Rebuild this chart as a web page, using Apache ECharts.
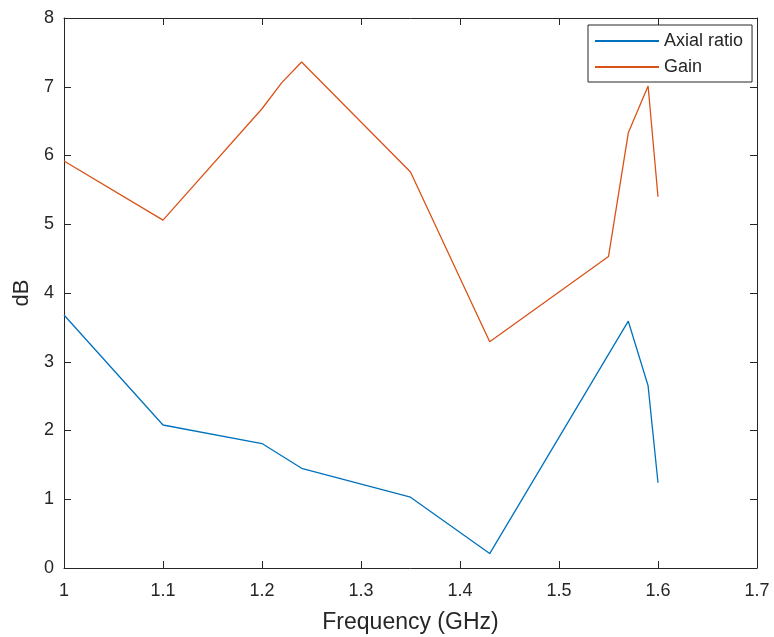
<!DOCTYPE html>
<html><head><meta charset="utf-8">
<script src="https://cdn.jsdelivr.net/npm/echarts@6/dist/echarts.min.js"></script>
<style>html,body{margin:0;padding:0;background:#fff}#c{width:774px;height:637px}</style>
</head><body><div id="c"></div>
<script>
const axialFreq = [1.0, 1.1, 1.2, 1.24, 1.35, 1.43, 1.57, 1.59, 1.60];
const axialRatio = [3.68, 2.08, 1.81, 1.45, 1.03, 0.21, 3.59, 2.65, 1.24];
const gainFreq = [1.0, 1.1, 1.2, 1.22, 1.24, 1.35, 1.43, 1.55, 1.57, 1.59, 1.60];
const gainVals = [5.92, 5.06, 6.68, 7.06, 7.36, 5.76, 3.29, 4.53, 6.33, 7.01, 5.40];
const xTicks = {min: 1, max: 1.7, interval: 0.1};
const yTicks = {min: 0, max: 8, interval: 1};

const font = 'Liberation Sans, Arial, sans-serif';
const axisCol = '#262626';
const chart = echarts.init(document.getElementById('c'));
const pair = (xs, ys) => xs.map((x, i) => [x, ys[i]]);
const baseAxis = {
  axisLine: {show: true, onZero: false, lineStyle: {color: axisCol, width: 1}},
  axisTick: {show: true, inside: true, length: 7, lineStyle: {color: axisCol}},
  splitLine: {show: false}
};
chart.setOption({
  animation: false,
  grid: {left: 64, right: 17, top: 18, bottom: 69, containLabel: false, outerBoundsMode: 'none'},
  legend: {
    orient: 'vertical', left: 588, top: 25,
    data: ['Axial ratio', 'Gain'],
    icon: 'rect', itemWidth: 64, itemHeight: 2, itemGap: 8,
    backgroundColor: '#fff', borderColor: axisCol, borderWidth: 1,
    padding: [7, 9, 6, 7],
    textStyle: {fontFamily: font, fontSize: 18, color: '#262626'}
  },
  xAxis: [
    Object.assign({}, baseAxis, {type: 'value', min: xTicks.min, max: xTicks.max, interval: xTicks.interval,
      name: 'Frequency (GHz)', nameLocation: 'middle', nameGap: 43,
      nameTextStyle: {fontFamily: font, fontSize: 23, color: axisCol},
      axisLabel: {fontFamily: font, fontSize: 18, color: axisCol, margin: 14,
        formatter: v => String(Math.round(v * 10) / 10)}}),
    Object.assign({}, baseAxis, {type: 'value', position: 'top', min: xTicks.min, max: xTicks.max, interval: xTicks.interval,
      axisLabel: {show: false}})
  ],
  yAxis: [
    Object.assign({}, baseAxis, {type: 'value', min: yTicks.min, max: yTicks.max, interval: yTicks.interval,
      name: 'dB', nameLocation: 'middle', nameGap: 28,
      nameTextStyle: {fontFamily: font, fontSize: 22, color: axisCol},
      axisLabel: {fontFamily: font, fontSize: 18, color: axisCol, margin: 10}}),
    Object.assign({}, baseAxis, {type: 'value', position: 'right', min: yTicks.min, max: yTicks.max, interval: yTicks.interval,
      axisLabel: {show: false}})
  ],
  series: [
    {name: 'Axial ratio', type: 'line', data: pair(axialFreq, axialRatio), showSymbol: false, symbol: 'none',
      lineStyle: {color: '#0072BD', width: 1.3}, itemStyle: {color: '#0072BD'}},
    {name: 'Gain', type: 'line', data: pair(gainFreq, gainVals), showSymbol: false, symbol: 'none',
      lineStyle: {color: '#D95319', width: 1.3}, itemStyle: {color: '#D95319'}}
  ]
});
</script></body></html>
